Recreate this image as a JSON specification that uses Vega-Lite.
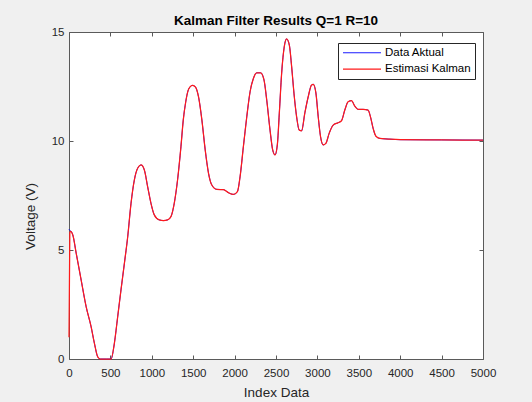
{
  "$schema": "https://vega.github.io/schema/vega-lite/v6.json",
  "description": "Kalman filter results, actual data vs Kalman estimate",
  "width": 414,
  "height": 327,
  "autosize": {"type": "none"},
  "padding": {"left": 69, "top": 32, "right": 49, "bottom": 43},
  "background": "#f0f0f0",
  "title": {
    "text": "Kalman Filter Results Q=1 R=10",
    "font": "Liberation Sans",
    "fontSize": 13.5,
    "fontWeight": "bold",
    "color": "#000000",
    "anchor": "middle",
    "offset": -1
  },
  "data": {
    "values": [
      {"i": 0, "Data Aktual": 5.95, "Estimasi Kalman": 1.0},
      {"i": 10, "Data Aktual": 5.9, "Estimasi Kalman": 5.8},
      {"i": 18, "Data Aktual": 5.88, "Estimasi Kalman": 5.85},
      {"i": 46, "Data Aktual": 5.69, "Estimasi Kalman": 5.69},
      {"i": 87, "Data Aktual": 4.85, "Estimasi Kalman": 4.85},
      {"i": 147, "Data Aktual": 3.62, "Estimasi Kalman": 3.62},
      {"i": 207, "Data Aktual": 2.4, "Estimasi Kalman": 2.4},
      {"i": 267, "Data Aktual": 1.48, "Estimasi Kalman": 1.48},
      {"i": 307, "Data Aktual": 0.72, "Estimasi Kalman": 0.72},
      {"i": 347, "Data Aktual": 0.1, "Estimasi Kalman": 0.1},
      {"i": 379, "Data Aktual": 0, "Estimasi Kalman": 0},
      {"i": 450, "Data Aktual": 0, "Estimasi Kalman": 0},
      {"i": 508, "Data Aktual": 0, "Estimasi Kalman": 0},
      {"i": 548, "Data Aktual": 0.72, "Estimasi Kalman": 0.72},
      {"i": 588, "Data Aktual": 1.94, "Estimasi Kalman": 1.94},
      {"i": 628, "Data Aktual": 3.17, "Estimasi Kalman": 3.17},
      {"i": 669, "Data Aktual": 4.39, "Estimasi Kalman": 4.39},
      {"i": 709, "Data Aktual": 5.61, "Estimasi Kalman": 5.61},
      {"i": 749, "Data Aktual": 7.14, "Estimasi Kalman": 7.14},
      {"i": 789, "Data Aktual": 8.21, "Estimasi Kalman": 8.21},
      {"i": 829, "Data Aktual": 8.75, "Estimasi Kalman": 8.75},
      {"i": 870, "Data Aktual": 8.9, "Estimasi Kalman": 8.9},
      {"i": 910, "Data Aktual": 8.67, "Estimasi Kalman": 8.67},
      {"i": 950, "Data Aktual": 7.9, "Estimasi Kalman": 7.9},
      {"i": 990, "Data Aktual": 7.14, "Estimasi Kalman": 7.14},
      {"i": 1030, "Data Aktual": 6.61, "Estimasi Kalman": 6.61},
      {"i": 1090, "Data Aktual": 6.38, "Estimasi Kalman": 6.38},
      {"i": 1140, "Data Aktual": 6.35, "Estimasi Kalman": 6.35},
      {"i": 1190, "Data Aktual": 6.38, "Estimasi Kalman": 6.38},
      {"i": 1231, "Data Aktual": 6.53, "Estimasi Kalman": 6.53},
      {"i": 1271, "Data Aktual": 7.14, "Estimasi Kalman": 7.14},
      {"i": 1311, "Data Aktual": 8.21, "Estimasi Kalman": 8.21},
      {"i": 1352, "Data Aktual": 9.74, "Estimasi Kalman": 9.74},
      {"i": 1380, "Data Aktual": 10.96, "Estimasi Kalman": 10.96},
      {"i": 1410, "Data Aktual": 11.8, "Estimasi Kalman": 11.8},
      {"i": 1437, "Data Aktual": 12.3, "Estimasi Kalman": 12.3},
      {"i": 1464, "Data Aktual": 12.49, "Estimasi Kalman": 12.49},
      {"i": 1490, "Data Aktual": 12.55, "Estimasi Kalman": 12.55},
      {"i": 1524, "Data Aktual": 12.49, "Estimasi Kalman": 12.49},
      {"i": 1564, "Data Aktual": 12.03, "Estimasi Kalman": 12.03},
      {"i": 1605, "Data Aktual": 10.96, "Estimasi Kalman": 10.96},
      {"i": 1645, "Data Aktual": 9.59, "Estimasi Kalman": 9.59},
      {"i": 1685, "Data Aktual": 8.52, "Estimasi Kalman": 8.52},
      {"i": 1725, "Data Aktual": 7.98, "Estimasi Kalman": 7.98},
      {"i": 1785, "Data Aktual": 7.78, "Estimasi Kalman": 7.78},
      {"i": 1865, "Data Aktual": 7.77, "Estimasi Kalman": 7.77},
      {"i": 1925, "Data Aktual": 7.63, "Estimasi Kalman": 7.63},
      {"i": 1986, "Data Aktual": 7.55, "Estimasi Kalman": 7.55},
      {"i": 2034, "Data Aktual": 7.68, "Estimasi Kalman": 7.68},
      {"i": 2066, "Data Aktual": 8.36, "Estimasi Kalman": 8.36},
      {"i": 2106, "Data Aktual": 9.74, "Estimasi Kalman": 9.74},
      {"i": 2147, "Data Aktual": 11.11, "Estimasi Kalman": 11.11},
      {"i": 2187, "Data Aktual": 12.26, "Estimasi Kalman": 12.26},
      {"i": 2227, "Data Aktual": 12.87, "Estimasi Kalman": 12.87},
      {"i": 2267, "Data Aktual": 13.13, "Estimasi Kalman": 13.13},
      {"i": 2315, "Data Aktual": 13.13, "Estimasi Kalman": 13.13},
      {"i": 2355, "Data Aktual": 12.8, "Estimasi Kalman": 12.8},
      {"i": 2388, "Data Aktual": 11.88, "Estimasi Kalman": 11.88},
      {"i": 2428, "Data Aktual": 10.5, "Estimasi Kalman": 10.5},
      {"i": 2460, "Data Aktual": 9.59, "Estimasi Kalman": 9.59},
      {"i": 2488, "Data Aktual": 9.36, "Estimasi Kalman": 9.36},
      {"i": 2516, "Data Aktual": 9.82, "Estimasi Kalman": 9.82},
      {"i": 2540, "Data Aktual": 11.27, "Estimasi Kalman": 11.27},
      {"i": 2568, "Data Aktual": 13.1, "Estimasi Kalman": 13.1},
      {"i": 2600, "Data Aktual": 14.33, "Estimasi Kalman": 14.33},
      {"i": 2628, "Data Aktual": 14.68, "Estimasi Kalman": 14.68},
      {"i": 2661, "Data Aktual": 14.4, "Estimasi Kalman": 14.4},
      {"i": 2689, "Data Aktual": 13.41, "Estimasi Kalman": 13.41},
      {"i": 2717, "Data Aktual": 12.19, "Estimasi Kalman": 12.19},
      {"i": 2749, "Data Aktual": 11.11, "Estimasi Kalman": 11.11},
      {"i": 2781, "Data Aktual": 10.5, "Estimasi Kalman": 10.5},
      {"i": 2809, "Data Aktual": 10.47, "Estimasi Kalman": 10.47},
      {"i": 2849, "Data Aktual": 11.3, "Estimasi Kalman": 11.3},
      {"i": 2889, "Data Aktual": 12.03, "Estimasi Kalman": 12.03},
      {"i": 2930, "Data Aktual": 12.57, "Estimasi Kalman": 12.57},
      {"i": 2950, "Data Aktual": 12.6, "Estimasi Kalman": 12.6},
      {"i": 2982, "Data Aktual": 12.2, "Estimasi Kalman": 12.2},
      {"i": 3010, "Data Aktual": 11.11, "Estimasi Kalman": 11.11},
      {"i": 3038, "Data Aktual": 10.2, "Estimasi Kalman": 10.2},
      {"i": 3070, "Data Aktual": 9.82, "Estimasi Kalman": 9.82},
      {"i": 3102, "Data Aktual": 9.89, "Estimasi Kalman": 9.89},
      {"i": 3142, "Data Aktual": 10.35, "Estimasi Kalman": 10.35},
      {"i": 3190, "Data Aktual": 10.73, "Estimasi Kalman": 10.73},
      {"i": 3251, "Data Aktual": 10.84, "Estimasi Kalman": 10.84},
      {"i": 3291, "Data Aktual": 10.93, "Estimasi Kalman": 10.93},
      {"i": 3331, "Data Aktual": 11.42, "Estimasi Kalman": 11.42},
      {"i": 3371, "Data Aktual": 11.8, "Estimasi Kalman": 11.8},
      {"i": 3412, "Data Aktual": 11.85, "Estimasi Kalman": 11.85},
      {"i": 3452, "Data Aktual": 11.6, "Estimasi Kalman": 11.6},
      {"i": 3492, "Data Aktual": 11.45, "Estimasi Kalman": 11.45},
      {"i": 3552, "Data Aktual": 11.45, "Estimasi Kalman": 11.45},
      {"i": 3612, "Data Aktual": 11.42, "Estimasi Kalman": 11.42},
      {"i": 3641, "Data Aktual": 11.11, "Estimasi Kalman": 11.11},
      {"i": 3673, "Data Aktual": 10.58, "Estimasi Kalman": 10.58},
      {"i": 3705, "Data Aktual": 10.23, "Estimasi Kalman": 10.23},
      {"i": 3753, "Data Aktual": 10.12, "Estimasi Kalman": 10.12},
      {"i": 3853, "Data Aktual": 10.09, "Estimasi Kalman": 10.09},
      {"i": 4000, "Data Aktual": 10.06, "Estimasi Kalman": 10.06},
      {"i": 4500, "Data Aktual": 10.05, "Estimasi Kalman": 10.05},
      {"i": 5000, "Data Aktual": 10.04, "Estimasi Kalman": 10.04}
    ]
  },
  "transform": [
    {"fold": ["Data Aktual", "Estimasi Kalman"], "as": ["series", "value"]}
  ],
  "layer": [
    {
      "mark": {"type": "line", "interpolate": "monotone"},
      "encoding": {
        "x": {
          "field": "i",
          "type": "quantitative",
          "scale": {"domain": [0, 5000], "nice": false},
          "axis": {
            "orient": "bottom",
            "title": "Index Data",
            "values": [0, 500, 1000, 1500, 2000, 2500, 3000, 3500, 4000, 4500, 5000],
            "format": "d",
            "labelOverlap": false,
            "labelFlush": false,
            "labelPadding": 12,
            "titleY": 33,
            "titleBaseline": "middle"
          }
        },
        "y": {
          "field": "value",
          "type": "quantitative",
          "scale": {"domain": [0, 15], "nice": false},
          "axis": {
            "orient": "left",
            "title": "Voltage (V)",
            "values": [0, 5, 10, 15],
            "format": "d",
            "labelOverlap": false,
            "labelFlush": false,
            "labelPadding": 9,
            "titleX": -39,
            "titleY": 184,
            "titleBaseline": "middle"
          }
        },
        "strokeWidth": {
          "field": "series",
          "type": "nominal",
          "scale": {"domain": ["Data Aktual", "Estimasi Kalman"], "range": [0.9, 1.25]},
          "legend": null
        },
        "color": {
          "field": "series",
          "type": "nominal",
          "scale": {"domain": ["Data Aktual", "Estimasi Kalman"], "range": ["#0000ff", "#ff1a1a"]},
          "legend": {
            "title": null,
            "orient": "none",
            "legendX": 269,
            "legendY": 11,
            "fillColor": "#ffffff",
            "strokeColor": "#262626",
            "padding": 4,
            "rowPadding": 4,
            "symbolType": "M-3.8,0H3.8",
            "symbolSize": 100,
            "symbolOffset": 14,
            "symbolStrokeWidth": 1,
            "labelOffset": 17,
            "labelFont": "Liberation Sans",
            "labelFontSize": 11.5,
            "labelColor": "#000000",
            "encode": {"symbols": {"update": {"strokeWidth": {"value": 1}}}}
          }
        }
      }
    },
    {
      "mark": {"type": "point", "opacity": 0},
      "encoding": {
        "x": {
          "field": "i",
          "type": "quantitative",
          "axis": {
            "orient": "top",
            "title": null,
            "labels": false,
            "values": [0, 500, 1000, 1500, 2000, 2500, 3000, 3500, 4000, 4500, 5000]
          }
        },
        "y": {
          "field": "value",
          "type": "quantitative",
          "axis": {
            "orient": "right",
            "title": null,
            "labels": false,
            "values": [0, 5, 10, 15]
          }
        }
      }
    }
  ],
  "resolve": {"axis": {"x": "independent", "y": "independent"}},
  "config": {
    "view": {"fill": "#ffffff", "stroke": "#5a5a5a", "strokeWidth": 1},
    "axis": {
      "domain": false,
      "grid": false,
      "ticks": true,
      "tickSize": -4,
      "tickColor": "#5a5a5a",
      "tickWidth": 1,
      "labelFont": "Liberation Sans",
      "labelFontSize": 11.5,
      "labelColor": "#262626",
      "titleFont": "Liberation Sans",
      "titleFontSize": 13.5,
      "titleFontWeight": "normal",
      "titleColor": "#262626"
    }
  }
}
